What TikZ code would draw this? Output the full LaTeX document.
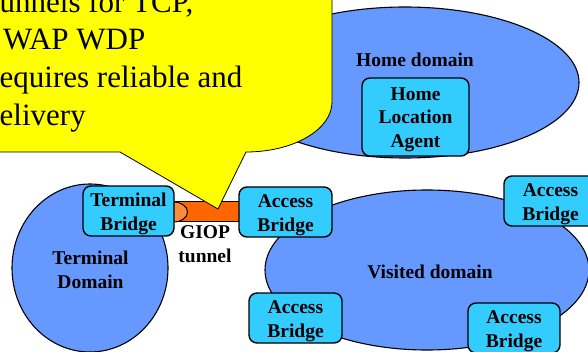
\documentclass[tikz,border=0pt]{standalone}
\usepackage{fontspec}
\setmainfont{Liberation Serif}
\usetikzlibrary{shapes.geometric}
\definecolor{domainblue}{RGB}{102,153,255}
\definecolor{bridgecyan}{RGB}{51,204,255}
\definecolor{tunnelorange}{RGB}{255,102,0}
\definecolor{tunnelcap}{RGB}{255,140,60}
\definecolor{noteyellow}{RGB}{255,255,0}
\begin{document}
\begin{tikzpicture}[x=1pt,y=-1pt,line join=round,
  netzone/.style={ellipse,draw=black,line width=1.1pt,fill=domainblue,inner sep=0pt},
  bridge/.style={draw=black,line width=1.4pt,fill=bridgecyan,rounded corners=8pt,inner sep=0pt},
  lbl/.style={font=\fontsize{19.5}{23.5}\selectfont\bfseries,align=center,inner sep=0pt},
  notetext/.style={font=\fontsize{31}{37.5}\selectfont,inner sep=0pt,anchor=base west}]
\useasboundingbox (0,0) rectangle (588,352);
\clip (0,0) rectangle (588,352);

% domains
\node[netzone,minimum width=348,minimum height=151] (home) at (405,82.5) {};
\node[netzone,minimum width=324,minimum height=160] (visited) at (427,270) {};
\node[netzone,minimum width=156,minimum height=168] (terminal) at (90,268) {};

% GIOP tunnel between the two bridges
\node[draw=black,line width=1pt,fill=tunnelorange,minimum width=66,minimum height=20,inner sep=0pt] (tunnel) at (207,212) {};
\draw[line width=1pt,fill=tunnelcap] (tunnel.west) ellipse[x radius=14,y radius=10];

% bridges and agent
\node[bridge,minimum width=91,minimum height=50] (tb) at (128.5,211) {};
\node[bridge,minimum width=93,minimum height=50] (ab1) at (285.5,212) {};
\node[bridge,minimum width=93,minimum height=50] (ab2) at (550.5,201) {};
\node[bridge,minimum width=93,minimum height=50] (ab3) at (295.5,318) {};
\node[bridge,minimum width=92,minimum height=50] (ab4) at (514,328) {};
\node[bridge,minimum width=107,minimum height=78] (hla) at (415.5,117) {};

\node[lbl,yshift=-3pt] (tbt) at (tb) {Terminal\\Bridge};
\node[lbl,yshift=-3pt] (ab1t) at (ab1) {Access\\Bridge};
\node[lbl,yshift=-3pt] (ab2t) at (ab2) {Access\\Bridge};
\node[lbl,yshift=-3pt] (ab3t) at (ab3) {Access\\Bridge};
\node[lbl,yshift=-3pt] (ab4t) at (ab4) {Access\\Bridge};
\node[lbl,yshift=-2.5pt] (hlat) at (hla) {Home\\Location\\Agent};

% free labels (base anchor sits on the last line)
\node[lbl,anchor=base] (homet) at (415,67) {Home domain};
\node[lbl,anchor=base] (visitedt) at (430,279) {Visited domain};
\node[lbl,anchor=base] (terminalt) at (90.5,288) {Terminal\\Domain};
\node[lbl,anchor=base] (giopt) at (205,262) {GIOP\\tunnel};

% speech bubble
\draw[line width=0.8pt,fill=noteyellow] (-20,152) -- (120,152) -- (218,209) -- (246,152)
  arc[start angle=90,end angle=0,x radius=86,y radius=50] -- (332,-20) -- (-20,-20) -- cycle;
\node[notetext] (n1) at (-0.5,12.5) {unnels for TCP,};
\node[notetext] (n2) at (3,50) {WAP WDP};
\node[notetext] (n3) at (-0.5,88) {equires reliable and};
\node[notetext] (n4) at (-0.5,126) {elivery};
\end{tikzpicture}
\end{document}
